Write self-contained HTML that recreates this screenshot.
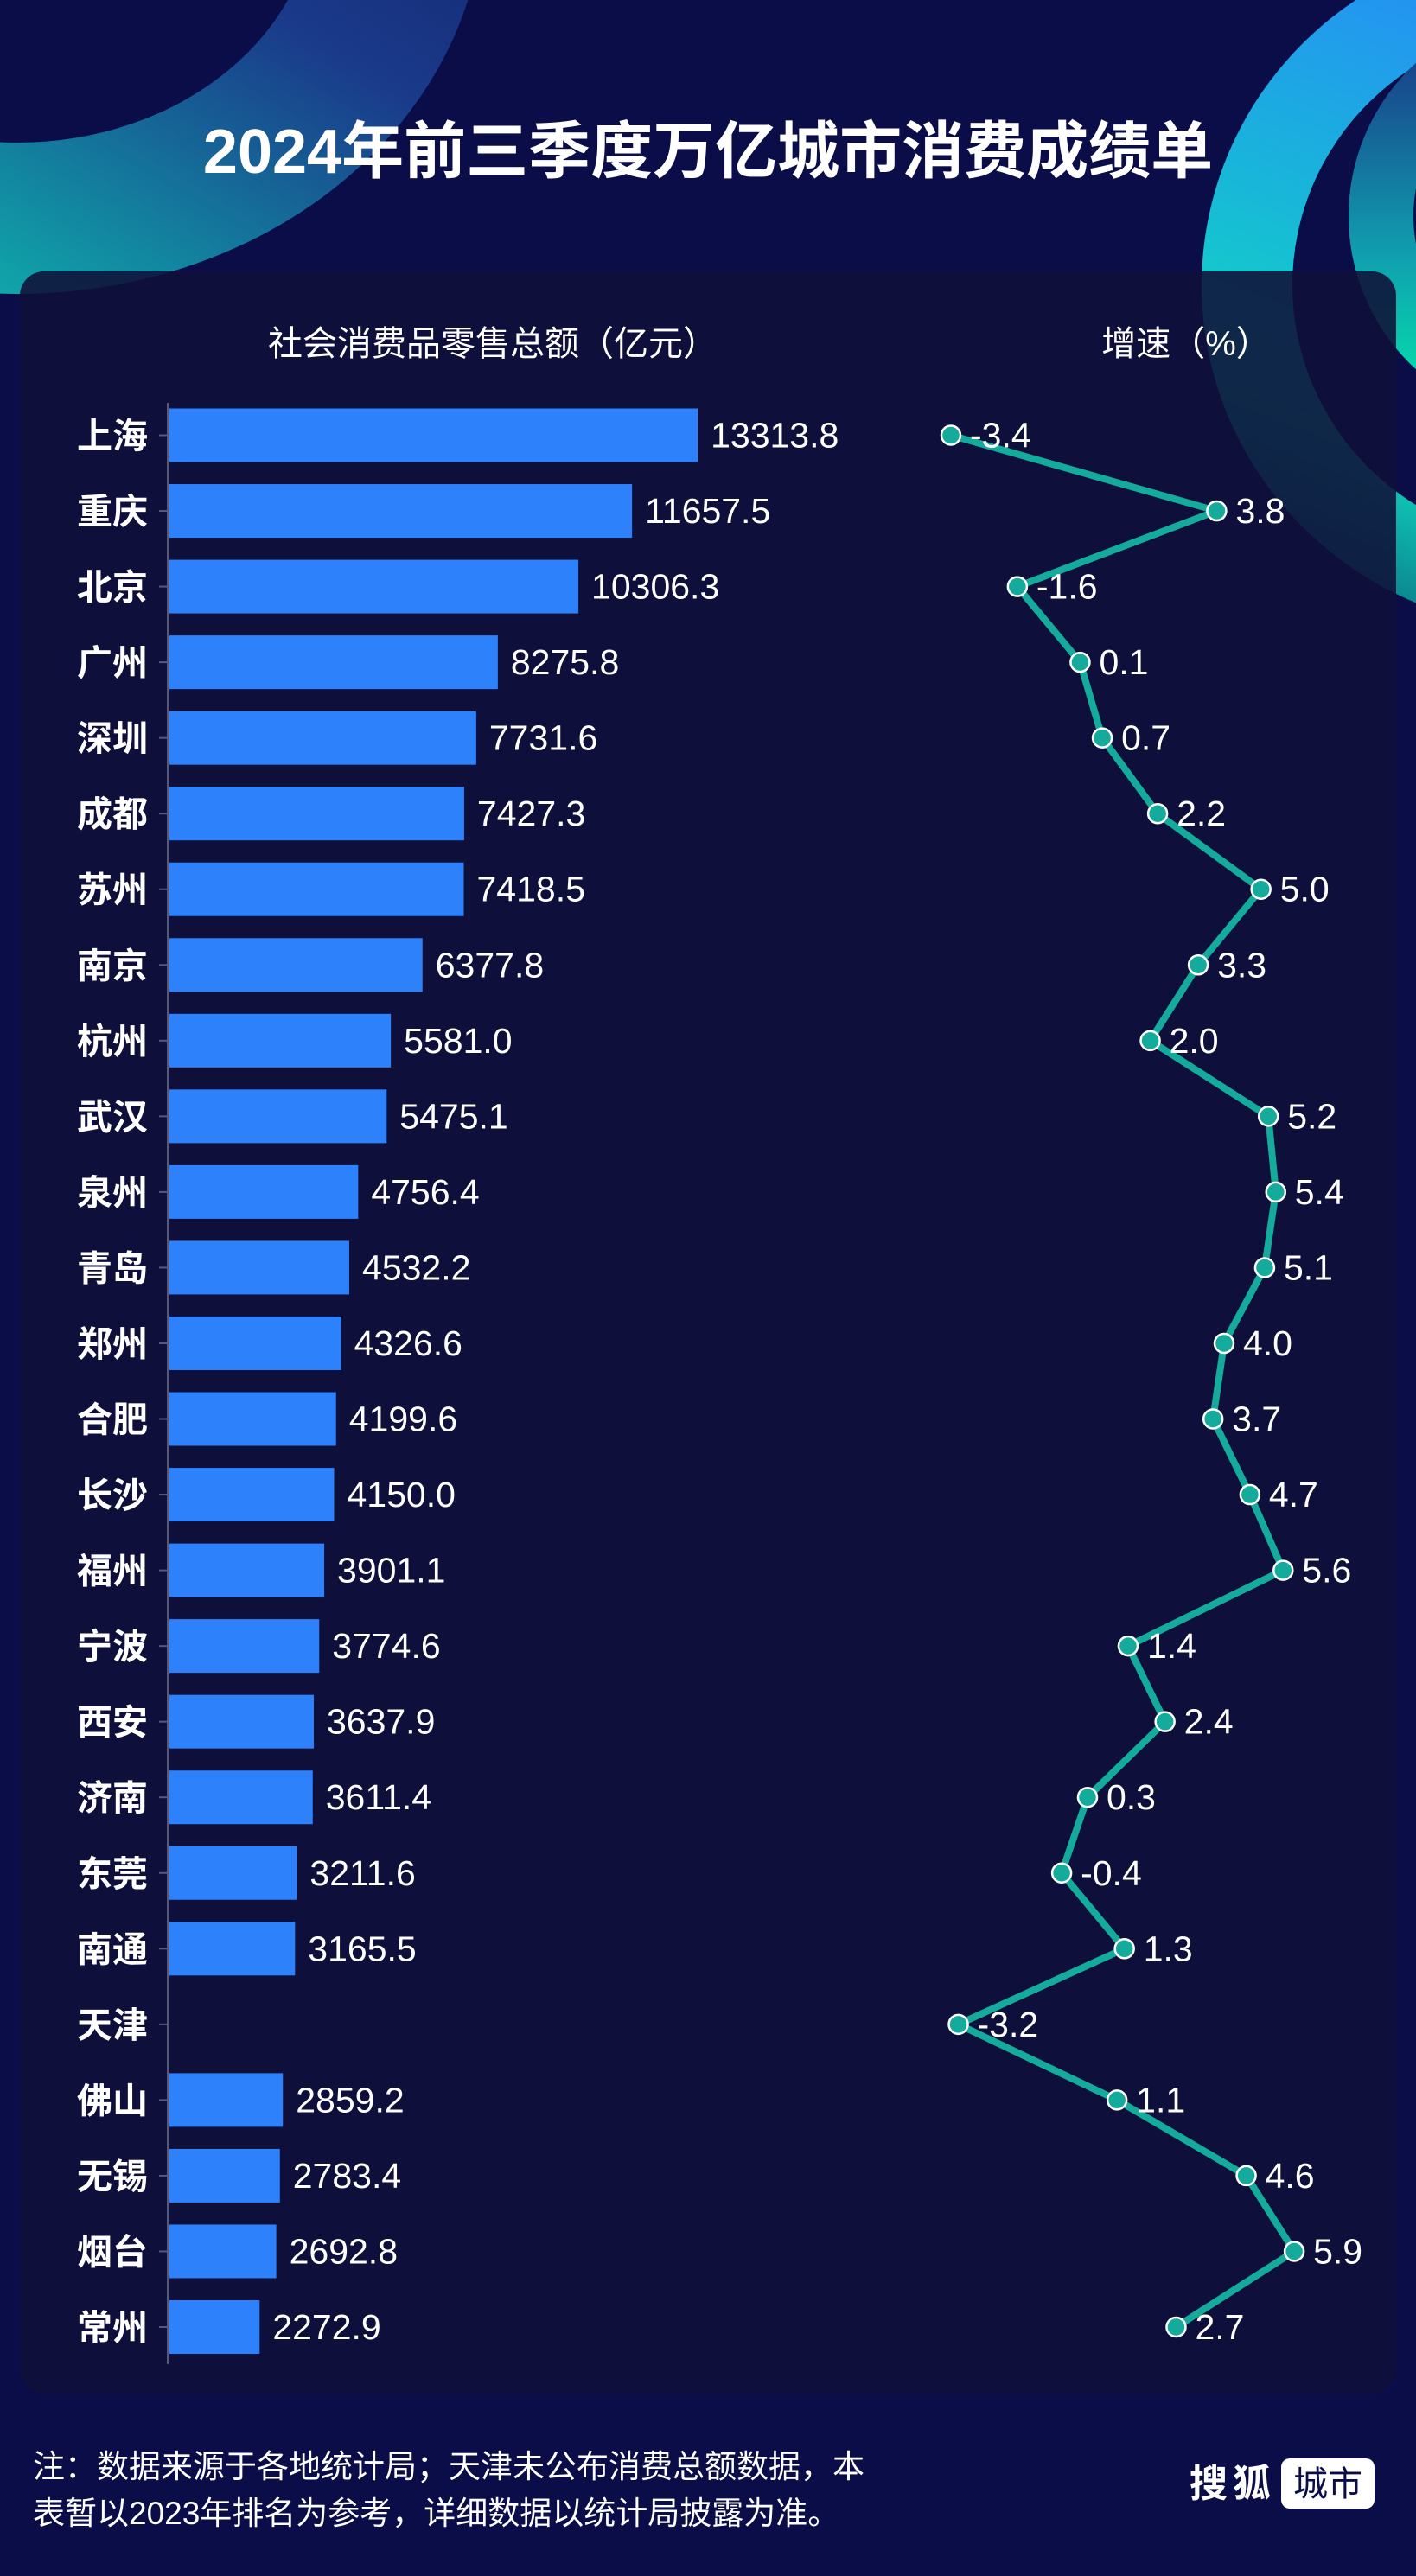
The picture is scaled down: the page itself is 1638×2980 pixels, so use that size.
<!DOCTYPE html>
<html><head><meta charset="utf-8"><style>
html,body{margin:0;padding:0;background:#0a0d48;}
svg{display:block}
text{font-family:"Liberation Sans","Noto Sans CJK SC",sans-serif;fill:#fff}
</style></head><body>
<svg width="1638" height="2980" viewBox="0 0 1638 2980" xmlns="http://www.w3.org/2000/svg">
<defs>
<linearGradient id="g1" x1="0.8" y1="0" x2="0.1" y2="1">
<stop offset="0" stop-color="#0c1456"/><stop offset="0.45" stop-color="#1a3a8a"/><stop offset="0.8" stop-color="#10a0a8"/><stop offset="1" stop-color="#10d8b0"/></linearGradient>
<linearGradient id="g2" x1="0.6" y1="0" x2="0.2" y2="1">
<stop offset="0" stop-color="#2a80ff"/><stop offset="0.5" stop-color="#18b8d8"/><stop offset="0.75" stop-color="#10d8c0"/><stop offset="1" stop-color="#0a6a80"/></linearGradient>
<linearGradient id="g3" x1="0.3" y1="0" x2="0.3" y2="1">
<stop offset="0" stop-color="#1a2a80"/><stop offset="0.6" stop-color="#10a0b0"/><stop offset="1" stop-color="#00f0a8"/></linearGradient>
</defs>
<rect width="1638" height="2980" fill="#0a0d48"/>
<path fill-rule="evenodd" fill="url(#g1)" d="M20,-120 m-540,0 a540,460 0 1,0 1080,0 a540,460 0 1,0 -1080,0 Z M20,-120 m-345,0 a345,285 0 1,0 690,0 a345,285 0 1,0 -690,0 Z"/>
<path fill-rule="evenodd" fill="url(#g2)" d="M1800,330 m-410,0 a410,400 0 1,0 820,0 a410,400 0 1,0 -820,0 Z M1800,330 m-305,0 a305,300 0 1,0 610,0 a305,300 0 1,0 -610,0 Z"/>
<path fill-rule="evenodd" fill="url(#g3)" d="M1800,250 m-240,0 a240,240 0 1,0 480,0 a240,240 0 1,0 -480,0 Z M1800,250 m-165,0 a165,170 0 1,0 330,0 a165,170 0 1,0 -330,0 Z"/>
<rect x="23" y="314" width="1592" height="2455" rx="28" fill="#0f1038" fill-opacity="0.88"/>
<text x="819" y="200" font-size="72" font-weight="bold" text-anchor="middle">2024年前三季度万亿城市消费成绩单</text>
<text x="570" y="411" font-size="40" text-anchor="middle">社会消费品零售总额（亿元）</text>
<text x="1372" y="411" font-size="40" text-anchor="middle">增速（%）</text>
<line x1="194" y1="466" x2="194" y2="2735" stroke="#555a78" stroke-width="2"/>
<g font-size="41" font-weight="bold" text-anchor="end" id="cities"></g>
<g id="bars"></g>
<g id="line"></g>
<text x="38" y="2866" font-size="37">注：数据来源于各地统计局；天津未公布消费总额数据，本</text>
<text x="38" y="2920" font-size="37">表暂以2023年排名为参考，详细数据以统计局披露为准。</text>
<text x="1376" y="2888" font-size="44" font-weight="bold" letter-spacing="6">搜狐</text>
<rect x="1482" y="2844" width="108" height="58" rx="10" fill="#fff"/>
<text x="1536" y="2887" font-size="40" text-anchor="middle" style="fill:#0a0d48">城市</text>
</svg>
<script>
const C=["上海","重庆","北京","广州","深圳","成都","苏州","南京","杭州","武汉","泉州","青岛","郑州","合肥","长沙","福州","宁波","西安","济南","东莞","南通","天津","佛山","无锡","烟台","常州"];
const V=[13313.8,11657.5,10306.3,8275.8,7731.6,7427.3,7418.5,6377.8,5581.0,5475.1,4756.4,4532.2,4326.6,4199.6,4150.0,3901.1,3774.6,3637.9,3611.4,3211.6,3165.5,null,2859.2,2783.4,2692.8,2272.9];
const G=[-3.4,3.8,-1.6,0.1,0.7,2.2,5.0,3.3,2.0,5.2,5.4,5.1,4.0,3.7,4.7,5.6,1.4,2.4,0.3,-0.4,1.3,-3.2,1.1,4.6,5.9,2.7];
const ns="http://www.w3.org/2000/svg";
function el(t,a,p,txt){const e=document.createElementNS(ns,t);for(const k in a)e.setAttribute(k,a[k]);if(txt!=null)e.textContent=txt;document.getElementById(p).appendChild(e);return e;}
let pts=[];
C.forEach((c,i)=>{
 const y=503.5+i*87.54;
 el("text",{x:171,y:y+15},"cities",c);
 el("line",{x1:184,y1:y,x2:194,y2:y,stroke:"#555a78","stroke-width":2},"bars");
 if(V[i]!=null){const w=V[i]*0.0459;
  el("rect",{x:196,y:y-31,width:w,height:62,fill:"#2d82fc"},"bars");
  el("text",{x:196+w+15,y:y+14,"font-size":41},"bars",V[i].toFixed(1));}
 const x=1100+(G[i]+3.4)*42.7;pts.push([x,y]);
});
el("polyline",{points:pts.map(p=>p.join(",")).join(" "),fill:"none",stroke:"#14aa9c","stroke-width":8,"stroke-linejoin":"round"},"line");
pts.forEach((p,i)=>{
 el("circle",{cx:p[0],cy:p[1],r:11,fill:"#14aa9c",stroke:"#fff","stroke-width":2.5},"line");
 el("text",{x:p[0]+22,y:p[1]+14,"font-size":41},"line",G[i].toFixed(1));
});
</script>
</body></html>
